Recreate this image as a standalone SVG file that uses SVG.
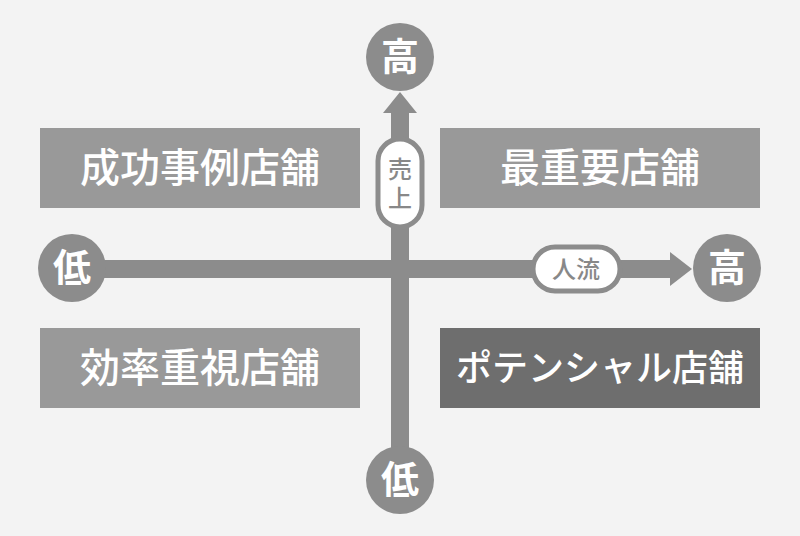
<svg xmlns="http://www.w3.org/2000/svg" width="800" height="536" viewBox="0 0 800 536">
<style>
.box{fill:#999}
.bt{font-family:"Noto Sans CJK JP",sans-serif;font-size:40px;font-weight:500;fill:#fff;text-anchor:middle}
.circ{fill:#8c8c8c}
.ct{font-family:"Noto Sans CJK JP",sans-serif;font-size:38px;font-weight:bold;fill:#fff;text-anchor:middle}
.pill{fill:#fff;stroke:#8c8c8c;stroke-width:5}
.pt{font-family:"Noto Sans CJK JP",sans-serif;font-size:24px;font-weight:500;fill:#888;text-anchor:middle}
</style>
<rect width="800" height="536" fill="#f3f3f3"/>
<g id="connectors">
<rect x="70" y="260" width="600" height="18" fill="#8c8c8c"/>
<polygon points="670,252 692,269 670,286" fill="#8c8c8c"/>
<rect x="391" y="113" width="18" height="367" fill="#8c8c8c"/>
<polygon points="383,113 400,92 417,113" fill="#8c8c8c"/>
</g>
<g id="n1"><rect class="box" x="40" y="128" width="320" height="80"/><text class="bt" x="200" y="182">成功事例店舗</text></g>
<g id="n2"><rect class="box" x="440" y="128" width="320" height="80"/><text class="bt" x="600" y="182">最重要店舗</text></g>
<g id="n3"><rect class="box" x="40" y="328" width="320" height="80"/><text class="bt" x="200" y="382">効率重視店舗</text></g>
<g id="n4"><rect x="440" y="328" width="320" height="80" fill="#6e6e6e"/><text class="bt" x="600" y="381" style="font-size:36px">ポテンシャル店舗</text></g>
<g id="top"><circle class="circ" cx="400" cy="57" r="34"/><text class="ct" x="400" y="70">高</text></g>
<g id="right"><circle class="circ" cx="727" cy="268" r="34"/><text class="ct" x="727" y="281">高</text></g>
<g id="left"><circle class="circ" cx="72" cy="268" r="34"/><text class="ct" x="72" y="281">低</text></g>
<g id="bottom"><circle class="circ" cx="400" cy="480" r="34"/><text class="ct" x="400" y="493">低</text></g>
<g id="l1"><rect class="pill" x="378" y="139" width="44" height="88" rx="22"/><text class="pt" x="400" y="178">売</text><text class="pt" x="400" y="207">上</text></g>
<g id="l2"><rect class="pill" x="533" y="247" width="87" height="44" rx="22"/><text class="pt" x="576" y="278">人流</text></g>
</svg>
